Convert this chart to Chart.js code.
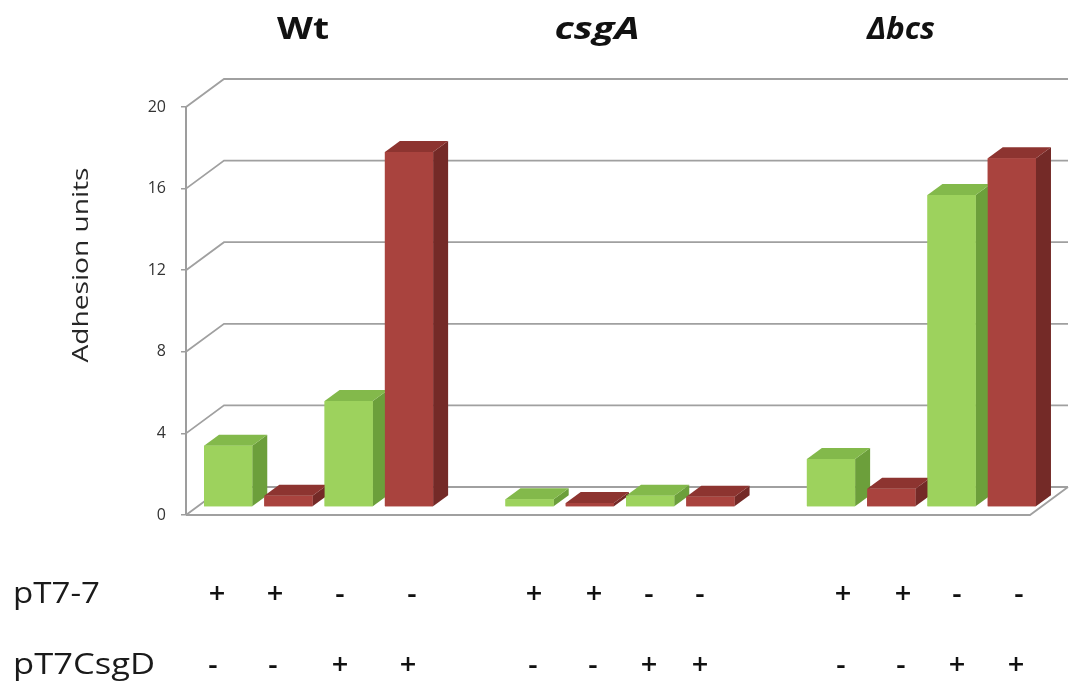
<!DOCTYPE html>
<html>
<head>
<meta charset="utf-8">
<title>Adhesion units</title>
<style>
  html, body { margin: 0; padding: 0; background: #ffffff; }
  #wrap { width: 1069px; height: 684px; }
</style>
<script src="https://cdn.jsdelivr.net/npm/chart.js@4.4.1/dist/chart.umd.min.js"></script>
</head>
<body>
<div id="wrap"><canvas id="chart" width="1069" height="684"></canvas></div>
<script>
// ---- data ----
const strains = ['Wt', 'csgA', 'Δbcs'];
// adhesion per strain, bars in order green, red, green, red
const wtValues   = [3.0, 0.55, 5.2, 17.4];
const csgAValues = [0.38, 0.2, 0.55, 0.5];
const bcsValues  = [2.35, 0.9, 15.3, 17.1];
// plasmid content of each bar
const plasmidNames = ['pT7-7', 'pT7CsgD'];
const pT77Signs    = ['+', '+', '-', '-'];
const pT7CsgDSigns = ['-', '-', '+', '+'];
// value axis
const yTicks = [0, 4, 8, 12, 16, 20];
const yTitle = 'Adhesion units';

// ---- styling / layout ----
const FONT = '"Open Sans", Lato, "DejaVu Sans", sans-serif';
const WALL = { dx: 38, dy: -28 };       // depth of the box
const ROW_SHIFT = { dx: 12, dy: -8 };   // bars stand a little inside the box
const BAR_DEPTH = { dx: 15, dy: -11 };  // thickness of each bar
const GREEN = { front: '#9dd25d', top: '#83b94b', side: '#6c9f3b' };
const RED   = { front: '#a9433e', top: '#8d3430', side: '#742a27' };
const titleCenters = [303, 597, 901];
const titleWidths  = [52, 85, 68];
const signX1 = [[217, 275, 340, 412], [534, 594, 649, 700], [843, 903, 957, 1019]];
const signX2 = [[213, 273, 340, 408], [533, 593, 649, 700], [841, 901, 957, 1016]];

// 14 category slots: 4 bars per strain, one empty slot between strains
const groups = [wtValues, csgAValues, bcsValues];
const labels = [];
const values = [];
const palette = [];
groups.forEach((g, gi) => {
  if (gi > 0) { labels.push(''); values.push(null); palette.push(GREEN); }
  g.forEach((v, i) => {
    labels.push(strains[gi] + ' ' + (i + 1));
    values.push(v);
    palette.push(i % 2 === 0 ? GREEN : RED);
  });
});

function stretchText(ctx, text, x, y, font, width, align, color) {
  ctx.save();
  ctx.font = font;
  ctx.fillStyle = color;
  ctx.textBaseline = 'alphabetic';
  ctx.textAlign = align;
  const w = ctx.measureText(text).width;
  const sx = width ? width / w : 1;
  ctx.translate(x, y);
  ctx.scale(sx, 1);
  ctx.fillText(text, 0, 0);
  ctx.restore();
}

// back wall, side wall and floor lines, then the bars drawn as boxes
const box3d = {
  id: 'box3d',
  beforeDatasetsDraw(chart) {
    const { ctx, chartArea: a, scales: { y } } = chart;
    ctx.save();
    ctx.strokeStyle = '#a0a0a0';
    ctx.lineWidth = 1.8;
    yTicks.forEach(v => {
      const py = y.getPixelForValue(v);
      ctx.beginPath();
      ctx.moveTo(a.left, py);
      ctx.lineTo(a.left + WALL.dx, py + WALL.dy);
      ctx.lineTo(a.right + WALL.dx, py + WALL.dy);
      ctx.stroke();
    });
    const p0 = y.getPixelForValue(0);
    ctx.beginPath();
    ctx.moveTo(a.left, p0);
    ctx.lineTo(a.right, p0);
    ctx.lineTo(a.right + WALL.dx, p0 + WALL.dy);
    ctx.stroke();
    ctx.restore();
    ctx.save();
    ctx.translate(ROW_SHIFT.dx, ROW_SHIFT.dy);
  },
  afterDatasetsDraw(chart) {
    const { ctx } = chart;
    const meta = chart.getDatasetMeta(0);
    meta.data.forEach((bar, i) => {
      if (values[i] == null) return;
      const { x, y, base, width } = bar.getProps(['x', 'y', 'base', 'width'], true);
      const xl = x - width / 2, xr = x + width / 2;
      const c = palette[i];
      ctx.fillStyle = c.side;
      ctx.beginPath();
      ctx.moveTo(xr, y);
      ctx.lineTo(xr + BAR_DEPTH.dx, y + BAR_DEPTH.dy);
      ctx.lineTo(xr + BAR_DEPTH.dx, base + BAR_DEPTH.dy);
      ctx.lineTo(xr, base);
      ctx.closePath();
      ctx.fill();
      ctx.fillStyle = c.top;
      ctx.beginPath();
      ctx.moveTo(xl, y);
      ctx.lineTo(xl + BAR_DEPTH.dx, y + BAR_DEPTH.dy);
      ctx.lineTo(xr + BAR_DEPTH.dx, y + BAR_DEPTH.dy);
      ctx.lineTo(xr, y);
      ctx.closePath();
      ctx.fill();
      bar.draw(ctx);
    });
    ctx.restore();
  }
};

// strain names, axis title and plasmid rows
const annotations = {
  id: 'annotations',
  afterDraw(chart) {
    const { ctx } = chart;
    strains.forEach((s, i) => {
      const f = (i === 0 ? 'bold ' : 'italic bold ') + '30px ' + FONT;
      stretchText(ctx, s, titleCenters[i], 39, f, titleWidths[i], 'center', '#111111');
    });
    ctx.save();
    ctx.translate(88, 265);
    ctx.rotate(-Math.PI / 2);
    stretchText(ctx, yTitle, 0, 0, '22px ' + FONT, 195, 'center', '#262626');
    ctx.restore();
    stretchText(ctx, plasmidNames[0], 13, 603, '30px ' + FONT, 87, 'left', '#1a1a1a');
    stretchText(ctx, plasmidNames[1], 13, 674, '30px ' + FONT, 142, 'left', '#1a1a1a');
    groups.forEach((g, gi) => {
      g.forEach((v, i) => {
        stretchText(ctx, pT77Signs[i], signX1[gi][i], 603, '600 29px ' + FONT, 0, 'center', '#111111');
        stretchText(ctx, pT7CsgDSigns[i], signX2[gi][i], 674, '600 29px ' + FONT, 0, 'center', '#111111');
      });
    });
  }
};

new Chart(document.getElementById('chart'), {
  type: 'bar',
  data: {
    labels: labels,
    datasets: [{
      label: yTitle,
      data: values,
      backgroundColor: palette.map(c => c.front),
      borderWidth: 0,
      barPercentage: 0.8,
      categoryPercentage: 1.0,
      clip: false
    }]
  },
  options: {
    responsive: false,
    devicePixelRatio: 1,
    animation: false,
    layout: { padding: { left: 0, right: 39, top: 107, bottom: 169 } },
    plugins: { legend: { display: false }, tooltip: { enabled: false } },
    scales: {
      x: { display: false },
      y: {
        min: 0, max: 20,
        afterFit(scale) { scale.width = 186; },
        ticks: { stepSize: 4, padding: 15, color: '#333333', font: { family: FONT, size: 16 } },
        grid: { drawOnChartArea: false, drawTicks: true, tickLength: 5, color: '#9d9d9d', lineWidth: 1.5 },
        border: { display: true, color: '#9d9d9d', width: 2 }
      }
    }
  },
  plugins: [box3d, annotations]
});
</script>
</body>
</html>
